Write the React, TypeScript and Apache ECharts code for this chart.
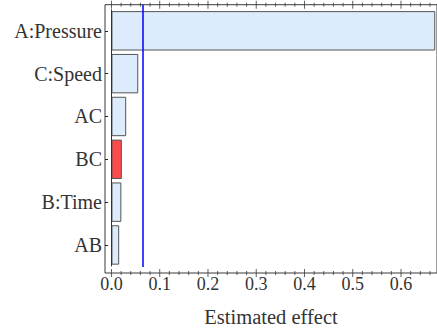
import React, { useEffect, useRef } from "react";
import * as echarts from "echarts";

const categories = ["A:Pressure", "C:Speed", "AC", "BC", "B:Time", "AB"];
const effects = [0.671, 0.0555, 0.0305, 0.0215, 0.0205, 0.016];
const highlighted = [false, false, false, true, false, false];
const threshold = 0.065;
const majorTicks = [0, 0.1, 0.2, 0.3, 0.4, 0.5, 0.6];
const tickLabels = ["0.0", "0.1", "0.2", "0.3", "0.4", "0.5", "0.6"];
const minorTicks = [
  0.02, 0.04, 0.06, 0.08, 0.12, 0.14, 0.16, 0.18, 0.22, 0.24, 0.26, 0.28,
  0.32, 0.34, 0.36, 0.38, 0.42, 0.44, 0.46, 0.48, 0.52, 0.54, 0.56, 0.58,
  0.62, 0.64, 0.66,
];

const X_MIN = -0.0134;
const X_MAX = 0.6746;
const FONT = "Liberation Serif";
const FRAME = "#3a3a3a";

export default function App() {
  const ref = useRef<HTMLDivElement>(null);
  useEffect(() => {
    if (!ref.current) return;
    const chart = echarts.init(ref.current, null, { renderer: "svg" });
    const tickData = [
      ...majorTicks.flatMap((v) => [
        { value: [v, 0], symbolSize: [1, 8] },
        { value: [v, 1], symbolSize: [1, 8] },
      ]),
      ...minorTicks.flatMap((v) => [
        { value: [v, 0], symbolSize: [1, 4] },
        { value: [v, 1], symbolSize: [1, 4] },
      ]),
    ];
    chart.setOption({
      animation: false,
      textStyle: { fontFamily: FONT },
      grid: [
        { left: 105, right: -1, top: 4.7, bottom: 59, show: true, borderColor: FRAME, borderWidth: 1, backgroundColor: "transparent" },
        { left: 105, right: -1, top: 9.4, bottom: 65.6 },
      ],
      xAxis: [
        {
          type: "value",
          gridIndex: 0,
          min: X_MIN,
          max: X_MAX,
          position: "bottom",
          splitLine: { show: false },
          axisLine: { show: false, onZero: false },
          axisTick: { show: false },
          axisLabel: {
            show: true,
            customValues: majorTicks,
            formatter: (v: number) => tickLabels[majorTicks.findIndex((m) => Math.abs(m - v) < 1e-9)] ?? "",
            fontFamily: FONT,
            fontSize: 18,
            color: "#333",
            margin: 2,
          },
          name: "Estimated effect",
          nameLocation: "middle",
          nameGap: 33,
          nameTextStyle: { fontFamily: FONT, fontSize: 20.5, color: "#333" },
        },
        {
          type: "value",
          gridIndex: 1,
          min: X_MIN,
          max: X_MAX,
          show: false,
          splitLine: { show: false },
          axisLine: { show: false, onZero: false },
        },
      ],
      yAxis: [
        {
          type: "value",
          gridIndex: 0,
          min: 0,
          max: 1,
          show: false,
          splitLine: { show: false },
          axisLine: { show: false, onZero: false },
        },
        {
          type: "category",
          gridIndex: 1,
          inverse: true,
          data: categories,
          axisLine: { show: false, onZero: false },
          axisTick: { show: true, inside: true, length: 3, alignWithLabel: true, lineStyle: { color: "#222" } },
          axisLabel: { fontFamily: FONT, fontSize: 20, color: "#333", margin: 3 },
        },
      ],
      series: [
        {
          type: "scatter",
          xAxisIndex: 0,
          yAxisIndex: 0,
          clip: true,
          symbol: "rect",
          silent: true,
          itemStyle: { color: FRAME },
          data: tickData,
          markLine: {
            silent: true,
            symbol: "none",
            label: { show: false },
            lineStyle: { color: "#0000ff", width: 1.5, type: "solid" },
            data: [[{ coord: [threshold, 0.022] }, { coord: [threshold, 1] }]],
          },
        },
        {
          type: "bar",
          xAxisIndex: 1,
          yAxisIndex: 1,
          barCategoryGap: "8%",
          data: effects.map((v, i) => ({
            value: v,
            itemStyle: {
              color: highlighted[i] ? "#ff4a4a" : "#dcecfc",
              borderColor: "#555",
              borderWidth: 1,
            },
          })),
          markLine: {
            silent: true,
            symbol: "none",
            label: { show: false },
            lineStyle: { color: "#333", width: 1, type: "solid" },
            data: [{ xAxis: 0 }],
          },
        },
      ],
    });
    return () => chart.dispose();
  }, []);
  return <div ref={ref} style={{ width: 437, height: 332, position: "absolute", left: 0, top: 0 }} />;
}
